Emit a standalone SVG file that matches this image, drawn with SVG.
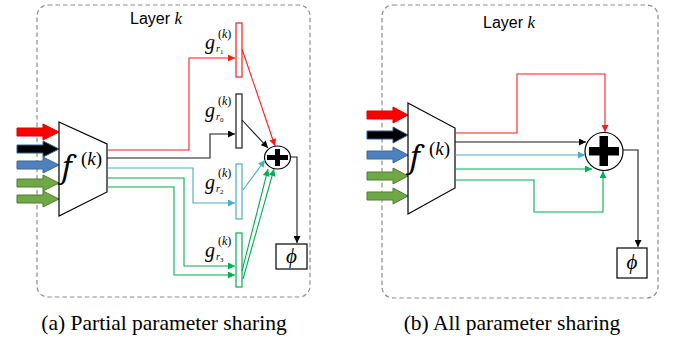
<svg xmlns="http://www.w3.org/2000/svg" width="677" height="339" viewBox="0 0 677 339">
<defs>
<style>
.frame{fill:none;stroke:#8c8c8c;stroke-width:1.2;stroke-dasharray:4.5 3}
.trap{fill:#fff;stroke:#000;stroke-width:1.2}
.ln{fill:none;stroke-width:1.1}
.r{stroke:#ff1a1a}.k{stroke:#1a1a1a}.b{stroke:#4bacc6}.g{stroke:#00b050}
.bar{fill:#fff;stroke-width:1.2}
.box{fill:#fff;stroke:#000;stroke-width:1.2}
.plus{fill:#fff;stroke:#000;stroke-width:1.2}
</style>
<marker id="aR" viewBox="0 0 10 10" refX="10" refY="5" markerWidth="8" markerHeight="7" markerUnits="userSpaceOnUse" orient="auto"><path d="M0,0L10,5L0,10z" fill="#ff1a1a"/></marker>
<marker id="aK" viewBox="0 0 10 10" refX="10" refY="5" markerWidth="8" markerHeight="7" markerUnits="userSpaceOnUse" orient="auto"><path d="M0,0L10,5L0,10z" fill="#000"/></marker>
<marker id="aB" viewBox="0 0 10 10" refX="10" refY="5" markerWidth="8" markerHeight="7" markerUnits="userSpaceOnUse" orient="auto"><path d="M0,0L10,5L0,10z" fill="#4bacc6"/></marker>
<marker id="aG" viewBox="0 0 10 10" refX="10" refY="5" markerWidth="8" markerHeight="7" markerUnits="userSpaceOnUse" orient="auto"><path d="M0,0L10,5L0,10z" fill="#00b050"/></marker>
</defs>
<rect width="677" height="339" fill="#fff"/>

<!-- Panel (a) -->
<g id="frame-a">
<rect class="frame" x="37" y="5" width="273" height="292" rx="11"/>
<text x="130" y="24" font-family="Liberation Sans, Arial, sans-serif" font-size="16">Layer <tspan font-family="Liberation Serif, serif" font-style="italic" font-size="17">k</tspan></text>
</g>
<g id="inputs-a">
<path d="M17,128H43V124L59,132L43,140V136H17Z" fill="#ff0000" stroke="#e00000"/>
<path d="M17,145H43V141L59,149L43,157V153H17Z" fill="#000" stroke="#2f5f8f"/>
<path d="M17,161H43V157L59,165L43,173V169H17Z" fill="#4f81bd" stroke="#3a679c"/>
<path d="M17,179H43V175L59,183L43,191V187H17Z" fill="#70a845" stroke="#4f7e32"/>
<path d="M17,195H43V191L59,199L43,207V203H17Z" fill="#70a845" stroke="#4f7e32"/>
</g>
<g id="f-a">
<path class="trap" d="M59,122L107,144V192L59,216Z"/>
<text x="62" y="178" font-family="Noto Serif, Liberation Serif, serif" font-style="italic" font-size="30">f</text>
<text x="81" y="165" font-family="Liberation Serif, serif" font-size="19">(<tspan font-style="italic">k</tspan>)</text>
</g>
<g font-family="Liberation Serif, serif" font-style="italic">
<g id="g-r1">
<rect class="bar r" x="236" y="23" width="6" height="54"/>
<text x="205" y="49" font-size="20">g</text>
<text x="218" y="38" font-size="12"><tspan font-style="normal">(</tspan>k<tspan font-style="normal">)</tspan></text>
<text x="216" y="52" font-size="10">r<tspan font-style="normal" font-size="7" dy="2">1</tspan></text>
</g>
<g id="g-r0">
<rect class="bar k" x="236" y="94" width="6" height="54"/>
<text x="205" y="117" font-size="20">g</text>
<text x="218" y="105" font-size="12"><tspan font-style="normal">(</tspan>k<tspan font-style="normal">)</tspan></text>
<text x="216" y="120" font-size="10">r<tspan font-style="normal" font-size="7" dy="2">0</tspan></text>
</g>
<g id="g-r2">
<rect class="bar b" x="236" y="164" width="6" height="55"/>
<text x="205" y="189" font-size="20">g</text>
<text x="218" y="177" font-size="12"><tspan font-style="normal">(</tspan>k<tspan font-style="normal">)</tspan></text>
<text x="216" y="192" font-size="10">r<tspan font-style="normal" font-size="7" dy="2">2</tspan></text>
</g>
<g id="g-r3">
<rect class="bar g" x="236" y="233" width="6" height="54"/>
<text x="205" y="257" font-size="20">g</text>
<text x="218" y="245" font-size="12"><tspan font-style="normal">(</tspan>k<tspan font-style="normal">)</tspan></text>
<text x="216" y="260" font-size="10">r<tspan font-style="normal" font-size="7" dy="2">3</tspan></text>
</g>
</g>
<g id="sum-a">
<ellipse class="plus" cx="277.5" cy="157.5" rx="13" ry="11.5"/>
<path d="M267,155H288V160H267ZM275,149H280V166H275Z" fill="#000"/>
</g>
<g id="phi-a">
<rect class="box" x="276" y="244" width="31" height="25"/>
<text x="291.5" y="263" font-family="Liberation Serif, serif" font-style="italic" font-size="21" text-anchor="middle">ϕ</text>
</g>

<!-- Panel (b) -->
<g id="frame-b">
<rect class="frame" x="382" y="5" width="276" height="293" rx="11"/>
<text x="483" y="28" font-family="Liberation Sans, Arial, sans-serif" font-size="16">Layer <tspan font-family="Liberation Serif, serif" font-style="italic" font-size="17">k</tspan></text>
</g>
<g id="inputs-b">
<path d="M367,111H393V107L408,115L393,123V119H367Z" fill="#ff0000" stroke="#e00000"/>
<path d="M367,131H393V127L408,135L393,143V139H367Z" fill="#000" stroke="#2f5f8f"/>
<path d="M367,151H393V147L408,155L393,163V159H367Z" fill="#4f81bd" stroke="#3a679c"/>
<path d="M367,172H393V168L408,176L393,184V180H367Z" fill="#70a845" stroke="#4f7e32"/>
<path d="M367,192H393V188L408,196L393,204V200H367Z" fill="#70a845" stroke="#4f7e32"/>
</g>
<g id="f-b">
<path class="trap" d="M408,103L455,128V188L408,214Z"/>
<text x="410" y="168" font-family="Noto Serif, Liberation Serif, serif" font-style="italic" font-size="30">f</text>
<text x="429" y="155" font-family="Liberation Serif, serif" font-size="19">(<tspan font-style="italic">k</tspan>)</text>
</g>
<g id="sum-b">
<circle class="plus" cx="604" cy="151.5" r="19"/>
<path d="M589,147H619V155.5H589ZM599.5,136H608V166H599.5Z" fill="#000"/>
</g>
<g id="phi-b">
<rect class="box" x="617" y="248" width="30" height="30"/>
<text x="632" y="269" font-family="Liberation Serif, serif" font-style="italic" font-size="21" text-anchor="middle">ϕ</text>
</g>

<g id="connectors">
<!-- panel a -->
<path class="ln r" d="M107,150H189V58H235" marker-end="url(#aR)"/>
<path class="ln k" d="M107,158H210V134H235" marker-end="url(#aK)"/>
<path class="ln b" d="M107,168H193V203H235" marker-end="url(#aB)"/>
<path class="ln g" d="M107,178H184V266H235" marker-end="url(#aG)"/>
<path class="ln g" d="M107,187H174V275H235" marker-end="url(#aG)"/>
<path class="ln r" d="M242,49L275,146" marker-end="url(#aR)"/>
<path class="ln k" d="M242,120L268,148" marker-end="url(#aK)"/>
<path class="ln b" d="M243,190L265,160" marker-end="url(#aB)"/>
<path class="ln g" d="M242,271L268,169" marker-end="url(#aG)"/>
<path class="ln g" d="M243,279L274,169" marker-end="url(#aG)"/>
<path class="ln k" d="M290.5,157H297V243" marker-end="url(#aK)"/>
<!-- panel b -->
<path class="ln r" d="M455,133H517V74H605V132" marker-end="url(#aR)"/>
<path class="ln k" d="M455,142H586" marker-end="url(#aK)"/>
<path class="ln b" d="M455,155H585" marker-end="url(#aB)"/>
<path class="ln g" d="M455,169H592" marker-end="url(#aG)"/>
<path class="ln g" d="M455,180H534V212H603V171" marker-end="url(#aG)"/>
<path class="ln k" d="M623,150H638V247" marker-end="url(#aK)"/>
</g>

<text x="164" y="330" font-family="Liberation Serif, Times New Roman, serif" font-size="21.5" text-anchor="middle">(a) Partial parameter sharing</text>
<text x="512" y="330" font-family="Liberation Serif, Times New Roman, serif" font-size="21.5" text-anchor="middle">(b) All parameter sharing</text>
</svg>
